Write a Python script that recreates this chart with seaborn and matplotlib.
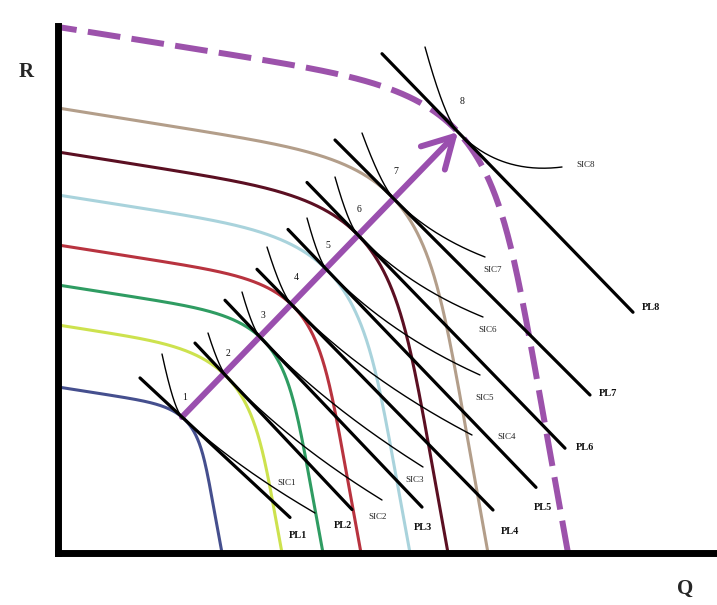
import numpy as np
import pandas as pd
import matplotlib
matplotlib.use("Agg")
import matplotlib.pyplot as plt
import seaborn as sns

# ---------------- data (Q horizontal, R vertical; units) ----------------
ppf_names = ["PPF1", "PPF2", "PPF3", "PPF4", "PPF5", "PPF6", "PPF7", "PPF8"]
ppf_colors = ["#454f8e", "#cde24e", "#2f9c62", "#b8333f", "#a9d3dc", "#5b0f22", "#b39e8a", "#9c52ab"]
ppf_r_intercept = [166, 228, 268, 308, 358, 401, 445, 526]
ppf_q_intercept = [164, 224, 265, 303, 352, 390, 430, 510]

# tangency points 1..8
point_labels = ["1", "2", "3", "4", "5", "6", "7", "8"]
point_q = [124, 169, 202, 234, 269, 300, 337, 400]
point_r = [136, 176, 216, 248, 283, 318, 353, 421]
label_q = [127, 170, 205, 238, 270, 301, 338, 404]
label_r = [155, 200, 238, 276, 307, 343, 381, 451]

# price lines PL1..PL8 (through the tangency points)
pl_names = ["PL1", "PL2", "PL3", "PL4", "PL5", "PL6", "PL7", "PL8"]
pl_q_start = [82, 137, 167, 199, 230, 249, 277, 324]
pl_q_end = [232, 294, 364, 435, 478, 507, 532, 575]
pl_slope = [-0.93, -1.06, -1.05, -1.02, -1.04, -1.03, -1.00, -1.03]
pl_label_q = [240, 285, 365, 452, 485, 527, 550, 593]
pl_label_r = [18, 28, 25, 21, 46, 105, 160, 245]

# social indifference curves SIC1..SIC8 (start, tangency point, end)
sic_names = ["SIC1", "SIC2", "SIC3", "SIC4", "SIC5", "SIC6", "SIC7", "SIC8"]
sic_q_start = [104, 150, 184, 209, 249, 277, 304, 367]
sic_r_start = [199, 220, 261, 306, 335, 376, 420, 506]
sic_q_end = [257, 324, 365, 414, 422, 425, 427, 504]
sic_r_end = [40, 53, 86, 118, 178, 236, 296, 386]
sic_label_q = [229, 320, 357, 449, 427, 430, 435, 528]
sic_label_r = [70, 36, 73, 116, 155, 223, 283, 388]

axis_labels = ["R", "Q"]

# ---------------- curve shapes ----------------
SKEW_Q, SKEW_R = 0.16, 0.13   # hand-drawn lean of the frontiers at the axes


def frontier(a, b, tq, tr):
    O = np.array([SKEW_Q * a, SKEW_R * b])
    eq = np.array([a, 0.0]) - O
    er = np.array([0.0, b]) - O
    M = np.column_stack([eq, er])
    U, V = np.linalg.solve(M, np.array([tq, tr]) - O)
    lo, hi = 1.2, 12.0
    for _ in range(80):
        mid = 0.5 * (lo + hi)
        if U ** mid + V ** mid - 1 > 0:
            lo = mid
        else:
            hi = mid
    p = 0.5 * (lo + hi)
    th = np.linspace(0, np.pi / 2, 400)
    uu = np.cos(th) ** (2 / p)
    vv = np.sin(th) ** (2 / p)
    pts = O[None, :] + uu[:, None] * eq[None, :] + vv[:, None] * er[None, :]
    return pts


def bez(P0, P1, P2, n=100):
    t = np.linspace(0, 1, n)[:, None]
    return (1 - t) ** 2 * P0 + 2 * t * (1 - t) * P1 + t ** 2 * P2


def sic_points(S, T, E, m):
    S, T, E = map(lambda v: np.asarray(v, float), (S, T, E))
    d = np.array([1.0, m])
    C1 = T + 0.4 * (S[0] - T[0]) * d
    C2 = T + 0.4 * (E[0] - T[0]) * d
    return np.vstack([bez(S, C1, T), bez(T, C2, E)[1:]])


rows = []
for name, a, b, q, r in zip(ppf_names, ppf_q_intercept, ppf_r_intercept, point_q, point_r):
    for x, y in frontier(a, b, q, r):
        rows.append((name, x, y))
ppf_df = pd.DataFrame(rows, columns=["curve", "Q", "R"])

rows = []
for name, q0, q1, m, tq, tr in zip(pl_names, pl_q_start, pl_q_end, pl_slope, point_q, point_r):
    for x in (q0, q1):
        rows.append((name, x, tr + m * (x - tq)))
pl_df = pd.DataFrame(rows, columns=["line", "Q", "R"])

rows = []
for i, name in enumerate(sic_names):
    pts = sic_points((sic_q_start[i], sic_r_start[i]), (point_q[i], point_r[i]),
                     (sic_q_end[i], sic_r_end[i]), pl_slope[i])
    for x, y in pts:
        rows.append((name, x, y))
sic_df = pd.DataFrame(rows, columns=["curve", "Q", "R"])

# ---------------- draw ----------------
sns.set_style("white")
plt.rcParams["font.family"] = ["Liberation Serif", "DejaVu Serif"]

W, H = 717, 605
fig = plt.figure(figsize=(W / 100, H / 100), dpi=100)
ax = fig.add_axes([58 / W, 52 / H, (W - 58) / W, 553 / H])
ax.set_xlim(0, W - 58)
ax.set_ylim(0, 553)

solid = ppf_df[ppf_df["curve"] != "PPF8"]
sns.lineplot(data=solid, x="Q", y="R", hue="curve", palette=dict(zip(ppf_names, ppf_colors)),
             sort=False, estimator=None, lw=2.2, legend=False, ax=ax, zorder=2)
sns.lineplot(data=ppf_df[ppf_df["curve"] == "PPF8"], x="Q", y="R", color=ppf_colors[7],
             sort=False, estimator=None, lw=4.3, legend=False, ax=ax, zorder=2,
             linestyle=(0, (5.5, 1.9)), dash_capstyle="butt")

ax.annotate("", xy=(point_q[7], point_r[7]), xytext=(point_q[0], point_r[0]),
            arrowprops=dict(arrowstyle="->,head_length=0.45,head_width=0.25", lw=4.3,
                            color="#9a4fae", shrinkA=0, shrinkB=0, mutation_scale=48),
            zorder=3)

sns.lineplot(data=pl_df, x="Q", y="R", units="line", color="black", sort=False,
             estimator=None, lw=2.3, legend=False, ax=ax, zorder=4)
sns.lineplot(data=sic_df, x="Q", y="R", units="curve", color="black", sort=False,
             estimator=None, lw=1.0, legend=False, ax=ax, zorder=4)

for s, x, y in zip(point_labels, label_q, label_r):
    ax.text(x, y, s, fontsize=7, ha="center", va="center", color="#111111", zorder=5)
for s, x, y in zip(pl_names, pl_label_q, pl_label_r):
    ax.text(x, y, s, fontsize=7.5, fontweight="bold", ha="center", va="center", color="#111111", zorder=5)
for s, x, y in zip(sic_names, sic_label_q, sic_label_r):
    ax.text(x, y, s, fontsize=6.5, ha="center", va="center", color="#222222", zorder=5)

ax.text(-32, 481, axis_labels[0], fontsize=15, fontweight="bold", ha="center", va="center")
ax.text(627, -36, axis_labels[1], fontsize=15, fontweight="bold", ha="center", va="center")

for side in ("top", "right"):
    ax.spines[side].set_visible(False)
ax.spines["left"].set_linewidth(5)
ax.spines["bottom"].set_linewidth(5)
ax.spines["left"].set_color("black")
ax.spines["bottom"].set_color("black")
ax.spines["left"].set_bounds(0, 527)
ax.set_xticks([])
ax.set_yticks([])
ax.set_xlabel("")
ax.set_ylabel("")
ax.patch.set_alpha(0)

fig.savefig("out.png", dpi=100, facecolor="white")
